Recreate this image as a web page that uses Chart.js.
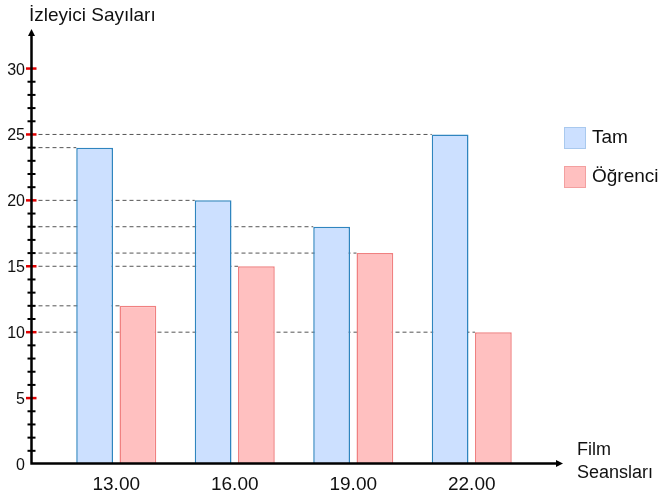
<!DOCTYPE html>
<html>
<head>
<meta charset="utf-8">
<script src="https://cdn.jsdelivr.net/npm/chart.js@4.4.1/dist/chart.umd.min.js"></script>
<style>
  html, body { margin: 0; padding: 0; background: #fff; }
  #wrap { width: 664px; height: 499px; }
</style>
</head>
<body>
<div id="wrap"><canvas id="chart"></canvas></div>
<script>
const sessions = ['13.00', '16.00', '19.00', '22.00'];
const fullTickets = [24, 20, 18, 25];
const studentTickets = [12, 15, 16, 10];
const yLabels = [0, 5, 10, 15, 20, 25, 30];
const seriesNames = ['Tam', 'Öğrenci'];
const yTitle = 'İzleyici Sayıları';
const xTitle = ['Film', 'Seansları'];

const FONT = '"Liberation Sans", Arial, sans-serif';

// axes, ticks, guides and legend drawn by hand to match the textbook look
const axesPlugin = {
    id: 'axes',
    beforeDatasetsDraw(chart) {
        const ctx = chart.ctx;
        const axisX = chart.chartArea.left - 25.5;
        ctx.save();
        ctx.setLineDash([4, 3]);
        ctx.strokeStyle = '#555';
        ctx.lineWidth = 1;
        chart.data.datasets.forEach((ds, d) => {
            chart.getDatasetMeta(d).data.forEach(bar => {
                ctx.beginPath();
                ctx.moveTo(axisX, bar.y);
                ctx.lineTo(bar.x - bar.width / 2, bar.y);
                ctx.stroke();
            });
        });
        ctx.restore();
    },
    afterDatasetsDraw(chart) {
        const ctx = chart.ctx;
        const area = chart.chartArea;
        const y = chart.scales.y;
        const x = chart.scales.x;
        const axisX = area.left - 25.5;
        const axisY = y.getPixelForValue(0) - 0.5;
        const rightEnd = area.right + 32;

        ctx.save();
        // minor / major ticks
        for (let v = 1; v <= 30; v++) {
            const py = y.getPixelForValue(v);
            const major = v % 5 === 0;
            ctx.beginPath();
            ctx.strokeStyle = major ? '#e00000' : '#000';
            ctx.lineWidth = major ? 2.5 : 2;
            ctx.moveTo(axisX - (major ? 5.5 : 4), py);
            ctx.lineTo(axisX + (major ? 5 : 4), py);
            ctx.stroke();
        }

        // axis lines
        ctx.strokeStyle = '#000';
        ctx.lineWidth = 2.5;
        ctx.beginPath();
        ctx.moveTo(axisX, axisY);
        ctx.lineTo(axisX, area.top + 5);
        ctx.moveTo(axisX - 1.2, axisY);
        ctx.lineTo(rightEnd - 5, axisY);
        ctx.stroke();

        // arrow heads
        ctx.fillStyle = '#000';
        ctx.beginPath();
        ctx.moveTo(axisX, area.top);
        ctx.lineTo(axisX - 3.5, area.top + 7);
        ctx.lineTo(axisX + 3.5, area.top + 7);
        ctx.closePath();
        ctx.fill();
        ctx.beginPath();
        ctx.moveTo(rightEnd, axisY);
        ctx.lineTo(rightEnd - 7, axisY - 3.5);
        ctx.lineTo(rightEnd - 7, axisY + 3.5);
        ctx.closePath();
        ctx.fill();

        // y labels
        ctx.fillStyle = '#111';
        ctx.font = '16px ' + FONT;
        ctx.textAlign = 'right';
        ctx.textBaseline = 'alphabetic';
        yLabels.forEach(v => {
            ctx.fillText(String(v), axisX - 6.5, y.getPixelForValue(v) + 6);
        });

        // x labels
        ctx.font = '19px ' + FONT;
        ctx.textAlign = 'center';
        sessions.forEach((s, i) => {
            ctx.fillText(s, x.getPixelForValue(i), axisY + 26);
        });

        // axis titles
        ctx.textAlign = 'left';
        ctx.fillText(yTitle, 29, 21);
        ctx.font = '18px ' + FONT;
        ctx.fillText(xTitle[0], rightEnd + 14, axisY - 9);
        ctx.fillText(xTitle[1], rightEnd + 14, axisY + 14);

        // legend
        ctx.font = '19px ' + FONT;
        chart.data.datasets.forEach((ds, d) => {
            const top = 127 + d * 39;
            ctx.fillStyle = ds.backgroundColor;
            ctx.fillRect(564, top, 22, 22);
            ctx.strokeStyle = ds.legendBorder;
            ctx.lineWidth = 1;
            ctx.strokeRect(564.5, top + 0.5, 21, 21);
            ctx.fillStyle = '#111';
            ctx.fillText(ds.label, 592, top + 16);
        });
        ctx.restore();
    }
};

new Chart(document.getElementById('chart'), {
    type: 'bar',
    data: {
        labels: sessions,
        datasets: [{
            label: seriesNames[0],
            data: fullTickets,
            backgroundColor: '#cce0ff',
            borderColor: '#2f85bf',
            legendBorder: '#a9c9ee',
            borderWidth: 1.5
        }, {
            label: seriesNames[1],
            data: studentTickets,
            backgroundColor: '#ffc0c0',
            borderColor: '#f08080',
            legendBorder: '#f3a0a0',
            borderWidth: 1.5
        }]
    },
    options: {
        responsive: true,
        maintainAspectRatio: false,
        animation: false,
        layout: { padding: { left: 57, right: 133, top: 29, bottom: 35 } },
        categoryPercentage: 0.73,
        barPercentage: 0.85,
        plugins: {
            legend: { display: false },
            tooltip: { enabled: false }
        },
        scales: {
            x: { display: false, offset: true },
            y: { display: false, min: 0, max: 33 }
        }
    },
    plugins: [axesPlugin]
});
</script>
</body>
</html>
